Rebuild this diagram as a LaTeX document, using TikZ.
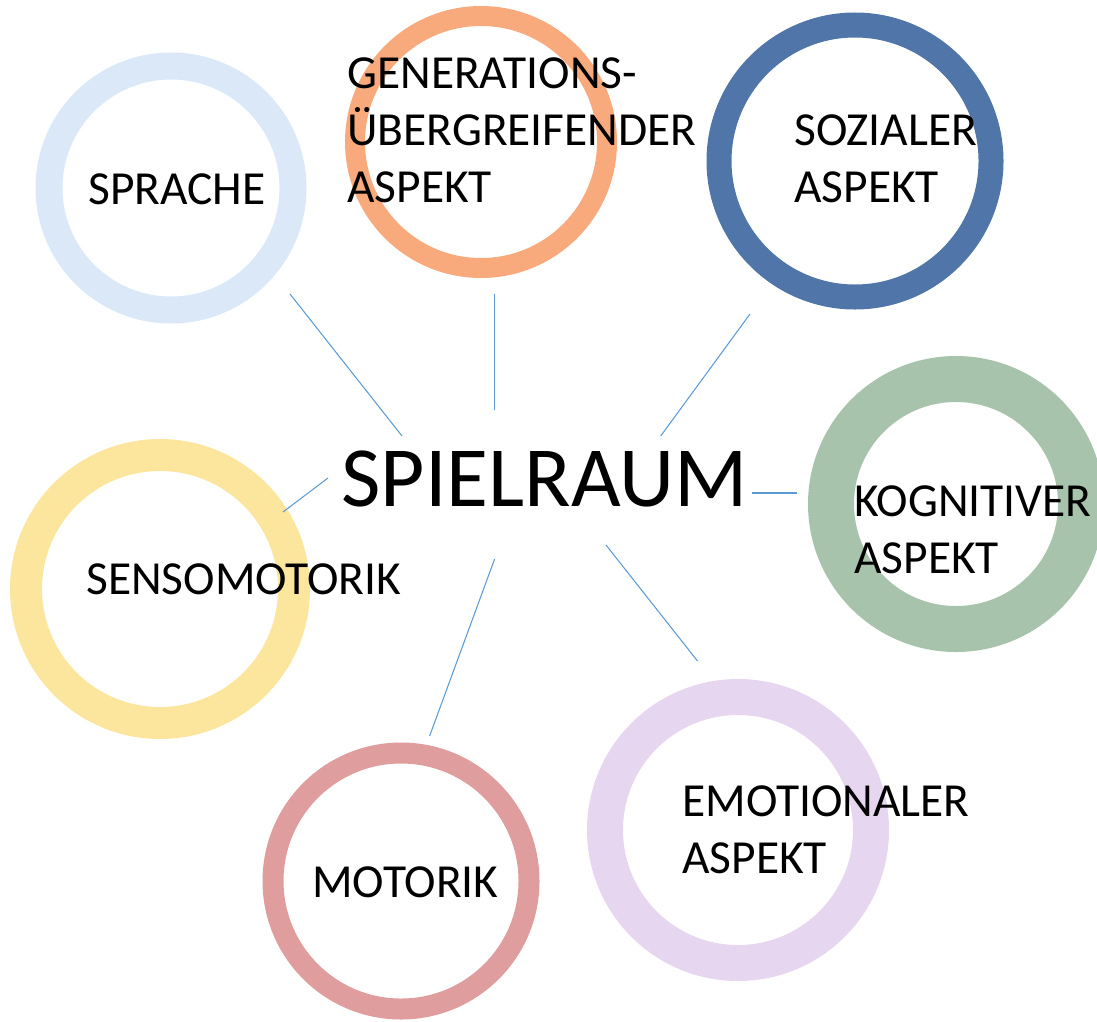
\documentclass[tikz,border=0pt]{standalone}
\usepackage{fontspec}
\setmainfont{Carlito}
\usetikzlibrary{positioning}

\definecolor{sprachecol}{RGB}{218,232,248}
\definecolor{generationcol}{RGB}{248,170,125}
\definecolor{sozialcol}{RGB}{80,117,168}
\definecolor{kognitivcol}{RGB}{168,195,172}
\definecolor{emotionalcol}{RGB}{231,214,240}
\definecolor{motorikcol}{RGB}{224,157,157}
\definecolor{sensocol}{RGB}{252,229,157}
\definecolor{spokecol}{RGB}{91,155,213}

\tikzset{
  ring/.style={circle, draw=#1, inner sep=0pt, outer sep=0pt},
  aspect/.style={anchor=base west, align=left, inner sep=0pt,
    font=\fontsize{27}{32.4}\selectfont},
  spoke/.style={draw=spokecol, line width=0.6pt},
}

\begin{document}
\begin{tikzpicture}[x=0.02cm, y=-0.02cm]
        \useasboundingbox (0,0) rectangle (1097,1021);

        % rings
        \node[ring=sprachecol, minimum size=244*0.02cm, line width=27*0.02cm] (sprache) at (171,188) {};
        \node[ring=generationcol, minimum size=252*0.02cm, line width=20*0.02cm] (generation) at (481,142) {};
        \node[ring=sozialcol, minimum size=272*0.02cm, line width=25*0.02cm] (sozial) at (855,161) {};
        \node[ring=kognitivcol, minimum size=250*0.02cm, line width=46*0.02cm] (kognitiv) at (956,504) {};
        \node[ring=emotionalcol, minimum size=266*0.02cm, line width=36*0.02cm] (emotional) at (738,830) {};
        \node[ring=motorikcol, minimum size=256*0.02cm, line width=21*0.02cm] (motorik) at (401,881) {};
        \node[ring=sensocol, minimum size=268*0.02cm, line width=32*0.02cm] (senso) at (160,589) {};

        % centre
        \node[anchor=base west, inner sep=0pt, font=\fontsize{48.8}{58}\selectfont] (spielraum) at (341,506) {SPIELRAUM};

        % labels (base = last line)
        \node[aspect] (sprachetext) at (88,204) {SPRACHE};
        \node[aspect] (generationtext) at (347,202) {GENERATIONS-\\ÜBERGREIFENDER\\ASPEKT};
        \node[aspect] (sozialtext) at (794,202) {SOZIALER\\ASPEKT};
        \node[aspect] (kognitivtext) at (854,573) {KOGNITIVER\\ASPEKT};
        \node[aspect] (emotionaltext) at (682,873) {EMOTIONALER\\ASPEKT};
        \node[aspect] (motoriktext) at (312,897) {MOTORIK};
        \node[aspect] (sensotext) at (86,594) {SENSOMOTORIK};

        % spoke ends
        \coordinate (S1) at (402,436);
        \coordinate (T1) at (290,294);
        \coordinate (S2) at (494.6,410);
        \coordinate (T2) at (494.6,294);
        \coordinate (S3) at (660.7,436);
        \coordinate (T3) at (750,314);
        \coordinate (S4) at (752,493);
        \coordinate (T4) at (797,493);
        \coordinate (S5) at (606,545);
        \coordinate (T5) at (697.5,661);
        \coordinate (S6) at (494.6,559);
        \coordinate (T6) at (429.6,736);
        \coordinate (S7) at (328,478);
        \coordinate (T7) at (283,512);

        \draw[spoke] (S1) -- (T1);
        \draw[spoke] (S2) -- (T2);
        \draw[spoke] (S3) -- (T3);
        \draw[spoke] (S4) -- (T4);
        \draw[spoke] (S5) -- (T5);
        \draw[spoke] (S6) -- (T6);
        \draw[spoke] (S7) -- (T7);
    \end{tikzpicture}
\end{document}
